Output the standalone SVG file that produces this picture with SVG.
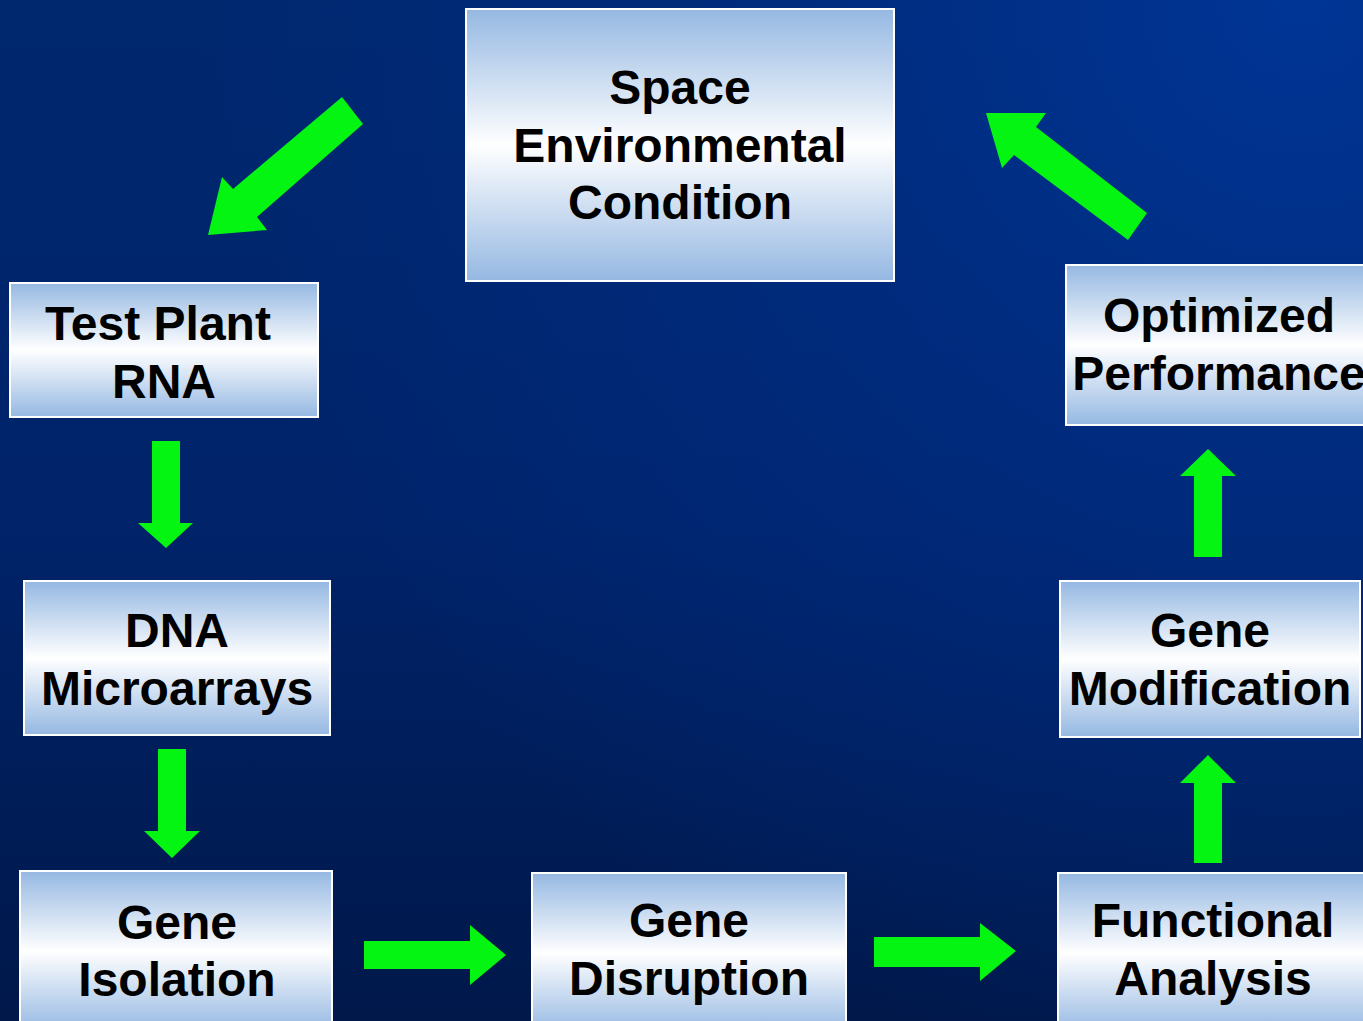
<svg xmlns="http://www.w3.org/2000/svg" width="1363" height="1021" viewBox="0 0 1363 1021">
<defs>
<linearGradient id="bg" x1="0" y1="0" x2="0" y2="1">
<stop offset="0" stop-color="#00286f"/>
<stop offset="0.5" stop-color="#00236a"/>
<stop offset="1" stop-color="#00184a"/>
</linearGradient>
<radialGradient id="glow" cx="1300" cy="0" r="1100" gradientUnits="userSpaceOnUse">
<stop offset="0" stop-color="#003596" stop-opacity="1"/>
<stop offset="0.6" stop-color="#002d84" stop-opacity="0.5"/>
<stop offset="1" stop-color="#002d84" stop-opacity="0"/>
</radialGradient>
<linearGradient id="box" x1="0" y1="0" x2="0" y2="1">
<stop offset="0" stop-color="#95b8e2"/>
<stop offset="0.5" stop-color="#ffffff"/>
<stop offset="1" stop-color="#95b8e2"/>
</linearGradient>
<style>
.node rect{fill:url(#box);stroke:#ffffff;stroke-width:2}
.node text{font-family:"Liberation Sans",Arial,sans-serif;font-weight:bold;font-size:48px;fill:#000;text-anchor:middle}
.arrow{fill:#04f511}
</style>
</defs>
<rect x="0" y="0" width="1363" height="1021" fill="url(#bg)"/>
<rect x="0" y="0" width="1363" height="1021" fill="url(#glow)"/>

<g id="space" class="node">
<rect x="466" y="9" width="428" height="272"/>
<text x="680" y="104">Space</text>
<text x="680" y="162">Environmental</text>
<text x="680" y="219">Condition</text>
</g>
<g id="test-plant-rna" class="node">
<rect x="10" y="283" width="308" height="134"/>
<text x="158" y="340">Test Plant</text>
<text x="164" y="398">RNA</text>
</g>
<g id="dna-microarrays" class="node">
<rect x="24" y="581" width="306" height="154"/>
<text x="177" y="647">DNA</text>
<text x="177" y="705">Microarrays</text>
</g>
<g id="gene-isolation" class="node">
<rect x="20" y="871" width="312" height="160"/>
<text x="177" y="939">Gene</text>
<text x="177" y="996">Isolation</text>
</g>
<g id="gene-disruption" class="node">
<rect x="532" y="873" width="314" height="160"/>
<text x="689" y="937">Gene</text>
<text x="689" y="995">Disruption</text>
</g>
<g id="functional-analysis" class="node">
<rect x="1058" y="873" width="312" height="160"/>
<text x="1213" y="937">Functional</text>
<text x="1213" y="995">Analysis</text>
</g>
<g id="gene-modification" class="node">
<rect x="1060" y="581" width="300" height="156"/>
<text x="1210" y="647">Gene</text>
<text x="1210" y="705">Modification</text>
</g>
<g id="optimized-performance" class="node">
<rect x="1066" y="265" width="310" height="160"/>
<text x="1219" y="332">Optimized</text>
<text x="1219" y="390">Performance</text>
</g>

<g id="connectors" class="arrow">
<polygon points="342,97 363,124 257,217 267,230 208,235 222,177 233,189"/>
<polygon points="152,441 180,441 180,523 193,523 166,548 138,523 152,523"/>
<polygon points="158,749 186,749 186,831 200,831 172,858 144,831 158,831"/>
<polygon points="364,941 470,941 470,925 506,955 470,985 470,969 364,969"/>
<polygon points="874,937 980,937 980,923 1016,951 980,981 980,967 874,967"/>
<polygon points="1194,863 1222,863 1222,783 1236,783 1208,755 1180,783 1194,783"/>
<polygon points="1194,557 1222,557 1222,476 1236,476 1208,449 1180,476 1194,476"/>
<polygon points="986,113 1046,113 1036,127 1147,213 1128,240 1014,155 1002,168"/>
</g>
</svg>
